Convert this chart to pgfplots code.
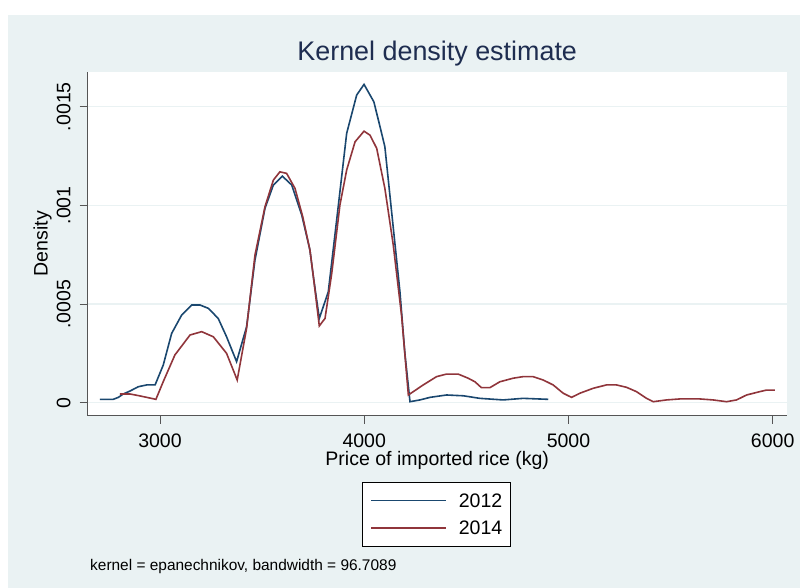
\documentclass[border=0pt]{standalone}
\usepackage{fontspec}
\setmainfont{Liberation Sans}
\usepackage{pgfplots}
\pgfplotsset{compat=1.18}
\definecolor{bgc}{RGB}{234,242,243}
\definecolor{s2navy}{RGB}{26,71,111}
\definecolor{s2maroon}{RGB}{144,53,59}
\definecolor{titlec}{RGB}{30,45,80}
\definecolor{axc}{RGB}{85,85,85}

\pgfplotstableread{
x y
2706 0.000017
2771 0.000017
2796 0.000027
2820 0.000044
2853 0.000059
2894 0.000081
2935 0.000090
2976 0.000090
3016 0.000191
3057 0.000351
3106 0.000444
3155 0.000495
3196 0.000495
3237 0.000478
3285 0.000427
3326 0.000334
3375 0.000208
3424 0.000385
3465 0.000723
3514 0.000985
3555 0.001103
3599 0.001148
3645 0.001103
3694 0.000951
3734 0.000774
3751 0.000638
3780 0.000427
3824 0.000562
3865 0.000926
3914 0.001365
3963 0.001559
3999 0.001613
4047 0.001525
4077 0.001400
4101 0.001297
4134 0.000968
4175 0.000560
4199 0.000250
4224 0.000005
4273 0.000014
4322 0.000027
4403 0.000039
4485 0.000035
4566 0.000022
4680 0.000014
4778 0.000022
4901 0.000017
}\dataA

\pgfplotstableread{
x y
2804 0.000044
2853 0.000044
2894 0.000036
2935 0.000027
2980 0.000017
3016 0.000107
3073 0.000242
3147 0.000343
3204 0.000360
3261 0.000334
3326 0.000250
3378 0.000115
3424 0.000377
3465 0.000748
3514 0.000993
3555 0.001128
3587 0.001170
3620 0.001162
3661 0.001086
3699 0.000942
3734 0.000774
3751 0.000638
3780 0.000389
3808 0.000427
3841 0.000656
3881 0.001002
3914 0.001179
3955 0.001322
3999 0.001376
4028 0.001356
4061 0.001289
4101 0.001086
4142 0.000800
4183 0.000440
4216 0.000039
4240 0.000056
4289 0.000090
4354 0.000132
4403 0.000145
4460 0.000145
4509 0.000124
4542 0.000106
4574 0.000076
4615 0.000076
4664 0.000106
4729 0.000124
4778 0.000132
4827 0.000132
4876 0.000115
4925 0.000090
4974 0.000048
5015 0.000027
5056 0.000048
5121 0.000073
5186 0.000090
5235 0.000090
5284 0.000078
5333 0.000056
5382 0.000022
5415 0.000005
5480 0.000014
5545 0.000019
5643 0.000019
5708 0.000014
5774 0.000005
5823 0.000014
5872 0.000039
5937 0.000056
5970 0.000064
6010 0.000064
}\dataB

\begin{document}
\begin{tikzpicture}[x=1bp,y=1bp]
\fill[white] (0,0) rectangle (800,588);
\fill[bgc] (8,0) rectangle (800,573);
\node[anchor=base, font=\fontsize{27}{32}\selectfont, text=titlec, inner sep=0pt] at (437.2,527.3) {Kernel density estimate};
\node[anchor=base, rotate=90, font=\fontsize{19.6}{23}\selectfont, inner sep=0pt] at (47.7,344.3) {Density};
\begin{axis}[
  at={(87.7bp,172.3bp)}, anchor=south west,
  scale only axis, width=699bp, height=344bp,
  xmin=2646, xmax=6068.6, ymin=-0.0000659, ymax=0.0016774,
  axis x line*=bottom, axis y line*=left,
  axis line style={axc, line width=0.8bp, -},
  axis background/.style={fill=white},
  xtick={3000,4000,5000,6000},
  xticklabels={3000,4000,5000,6000},
  ytick={0,0.0005,0.001,0.0015},
  yticklabels={0,.0005,.001,.0015},
  scaled y ticks=false, scaled x ticks=false,
  tick align=outside, major tick length=8bp,
  tick style={axc, line width=0.8bp},
  ymajorgrids, grid style={bgc, line width=1.5bp},
  tick label style={font=\fontsize{19.6}{23}\selectfont, inner sep=0pt},
  xticklabel style={anchor=north},
  xticklabel shift=9.6bp,
  yticklabel style={rotate=90, anchor=south},
  yticklabel shift=9bp,
  xlabel={Price of imported rice (kg)},
  xlabel style={font=\fontsize{19.6}{23}\selectfont, inner sep=0pt, at={(axis description cs:0.5,-0.1453)}, anchor=base},
  legend style={at={(axis description cs:0.392,-0.1936)}, anchor=north west,
    draw=black, fill=white,
    font=\fontsize{19.6}{23}\selectfont,
    inner xsep=8.3bp, inner ysep=11.2bp, row sep=13.8bp,
    nodes={inner sep=0pt, text depth=0pt},
    /tikz/every odd column/.append style={column sep=12bp}},
  legend cell align=left,
  legend image code/.code={\draw[#1, line width=1.6bp] (0bp,0bp) -- (75bp,0bp);},
]
\addplot[s2navy, line width=1.6bp] table[x=x,y=y] {\dataA};
\addlegendentry{2012\hspace{4.1bp}}
\addplot[s2maroon, line width=1.6bp] table[x=x,y=y] {\dataB};
\addlegendentry{2014\hspace{4.1bp}}
\end{axis}
\node[anchor=base west, font=\fontsize{15.5}{18}\selectfont, inner sep=0pt] at (90,17.5) {kernel = epanechnikov, bandwidth = 96.7089};
\end{tikzpicture}
\end{document}
